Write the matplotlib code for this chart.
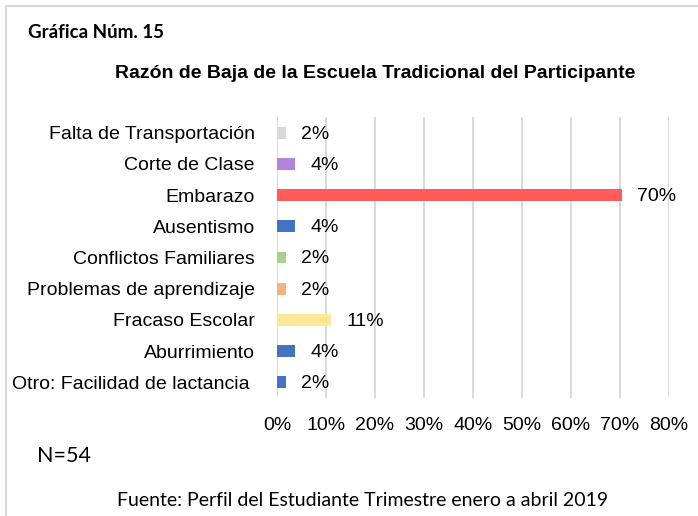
import matplotlib
matplotlib.use("Agg")
import matplotlib.pyplot as plt
from matplotlib.lines import Line2D

categories = [
    "Falta de Transportación",
    "Corte de Clase",
    "Embarazo",
    "Ausentismo",
    "Conflictos Familiares",
    "Problemas de aprendizaje",
    "Fracaso Escolar",
    "Aburrimiento",
    "Otro: Facilidad de lactancia ",
]
counts = [1, 2, 38, 2, 1, 1, 6, 2, 1]
total_n = 54
colors = ["#d9d9d9", "#b383d9", "#ff5b5b", "#4472c4", "#a9d18e",
          "#f4b183", "#ffe699", "#4472c4", "#4472c4"]
xticks = [0, 10, 20, 30, 40, 50, 60, 70, 80]

percents = [c / total_n * 100 for c in counts]

fig = plt.figure(figsize=(6.98, 5.16), dpi=100)
ax = fig.add_axes([277 / 698, 1 - 398 / 516, (669 - 277) / 698, (398 - 117) / 516])

ypos = list(range(len(categories)))
ax.barh(ypos, percents, height=0.38, color=colors, zorder=3)
ax.set_ylim(len(categories) - 0.5, -0.5)
ax.set_xlim(0, 80)
ax.set_xticks(xticks)
ax.set_xticklabels([f"{t}%" for t in xticks])
ax.set_yticks(ypos)
ax.set_yticklabels(categories)

font = "Liberation Sans"
for lbl in ax.get_yticklabels() + ax.get_xticklabels():
    lbl.set_fontfamily(font)
    lbl.set_fontsize(14)
ax.tick_params(axis="y", length=0, pad=16)
ax.tick_params(axis="x", length=0, pad=14)
for s in ax.spines.values():
    s.set_visible(False)
ax.grid(axis="x", color="#d9d9d9", linewidth=1.4, zorder=0)
ax.set_axisbelow(True)

for y, p in zip(ypos, percents):
    ax.annotate(f"{p:.0f}%", xy=(p, y), xytext=(11, -1), textcoords="offset points",
                ha="left", va="center", fontsize=14, fontfamily=font)

fig.text(28 / 698, 1 - 33 / 516, "Gráfica Núm. 15", fontsize=13.5, fontweight="bold",
         fontfamily="Lato", va="center", ha="left")
fig.text(375 / 698, 1 - 74 / 516, "Razón de Baja de la Escuela Tradicional del Participante",
         fontsize=14, fontweight="bold", fontfamily=font, va="center", ha="center")
fig.text(37 / 698, 1 - 456 / 516, f"N={total_n}", fontsize=15.5, fontfamily="Lato",
         va="center", ha="left")
fig.text(363 / 698, 1 - 500 / 516, "Fuente: Perfil del Estudiante Trimestre enero a abril 2019",
         fontsize=14, fontfamily="Lato", va="center", ha="center")

fig.add_artist(Line2D([6 / 698, 6 / 698], [0, 1 - 6 / 516], color="#d9d9d9", linewidth=1.5,
                      transform=fig.transFigure))
fig.add_artist(Line2D([6 / 698, 1], [1 - 6 / 516, 1 - 6 / 516], color="#d9d9d9", linewidth=1.5,
                      transform=fig.transFigure))

fig.savefig("out.png", dpi=100)
